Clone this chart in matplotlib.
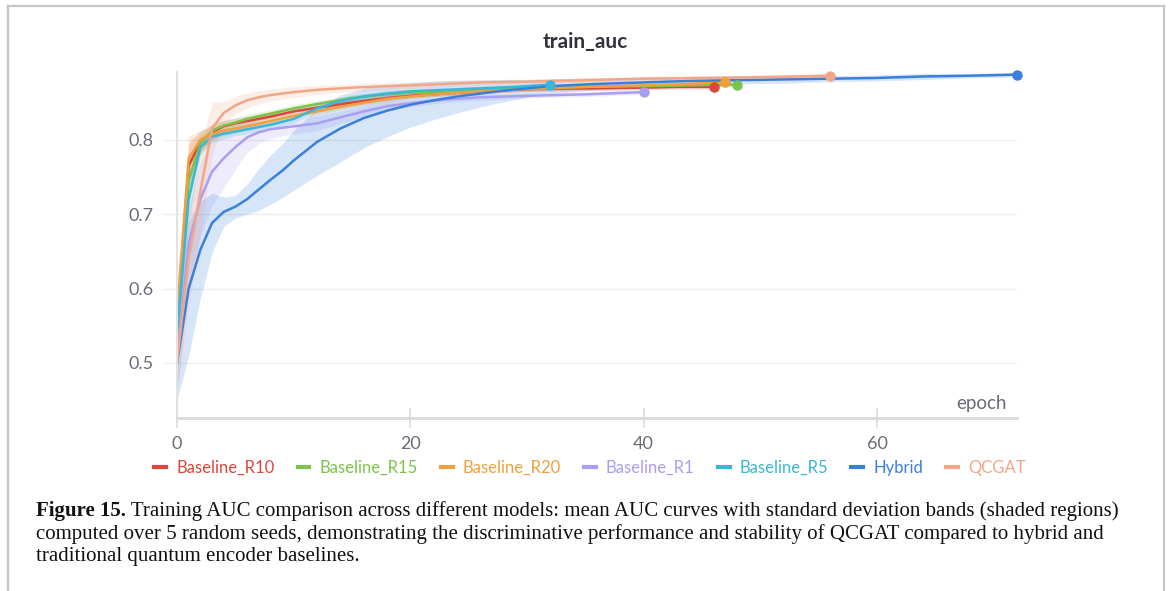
import matplotlib
matplotlib.use("Agg")
import matplotlib.pyplot as plt
from matplotlib.lines import Line2D
import numpy as np

# ---------------- data ----------------
names = ["Baseline_R10", "Baseline_R15", "Baseline_R20", "Baseline_R1",
         "Baseline_R5", "Hybrid", "QCGAT"]
colors = ["#dc473b", "#7cc34d", "#f0a03e", "#a89ff2", "#3ab6d6", "#3b7fdd", "#f2a688"]

r10_ep = [0, 1, 2, 3, 4, 5, 6, 8, 10, 12, 15, 18, 20, 23, 26, 30, 35, 40, 43, 46]
r10_val = [0.55, 0.765, 0.797, 0.81, 0.818, 0.822, 0.825, 0.831, 0.838, 0.843, 0.85,
           0.856, 0.859, 0.862, 0.865, 0.868, 0.869, 0.87, 0.871, 0.871]
r10_std = [0.05, 0.03, 0.015, 0.01, 0.008, 0.007, 0.006, 0.006, 0.005, 0.005, 0.004,
           0.004, 0.003, 0.003, 0.003, 0.003, 0.003, 0.003, 0.003, 0.003]

r15_ep = [0, 1, 2, 3, 4, 5, 6, 8, 10, 12, 15, 18, 20, 23, 26, 30, 35, 40, 44, 48]
r15_val = [0.55, 0.745, 0.795, 0.812, 0.819, 0.823, 0.828, 0.835, 0.842, 0.848, 0.856,
           0.861, 0.863, 0.865, 0.867, 0.869, 0.871, 0.872, 0.873, 0.874]
r15_std = [0.05, 0.03, 0.012, 0.009, 0.007, 0.006, 0.006, 0.005, 0.005, 0.004, 0.004,
           0.004, 0.003, 0.003, 0.003, 0.003, 0.003, 0.003, 0.003, 0.003]

r20_ep = [0, 1, 2, 3, 4, 5, 6, 8, 10, 12, 15, 18, 20, 23, 26, 30, 35, 40, 44, 47]
r20_val = [0.56, 0.775, 0.8, 0.808, 0.812, 0.815, 0.818, 0.825, 0.832, 0.838, 0.847,
           0.855, 0.858, 0.862, 0.865, 0.868, 0.871, 0.873, 0.875, 0.878]
r20_std = [0.05, 0.03, 0.012, 0.009, 0.007, 0.006, 0.006, 0.005, 0.005, 0.004, 0.004,
           0.004, 0.003, 0.003, 0.003, 0.003, 0.003, 0.003, 0.003, 0.003]

r1_ep = [0, 1, 2, 3, 4, 5, 6, 7, 8, 10, 12, 14, 16, 18, 20, 23, 26, 30, 35, 40]
r1_val = [0.5, 0.66, 0.72, 0.757, 0.775, 0.79, 0.803, 0.81, 0.814, 0.818, 0.822, 0.83,
          0.838, 0.845, 0.849, 0.854, 0.857, 0.859, 0.861, 0.864]
r1_std = [0.04, 0.05, 0.05, 0.045, 0.04, 0.03, 0.02, 0.015, 0.012, 0.01, 0.01, 0.008,
          0.007, 0.006, 0.005, 0.004, 0.004, 0.003, 0.003, 0.003]

r5_ep = [0, 1, 2, 3, 4, 5, 6, 8, 10, 12, 14, 16, 18, 20, 23, 26, 29, 32]
r5_val = [0.54, 0.72, 0.79, 0.804, 0.808, 0.811, 0.814, 0.82, 0.828, 0.842, 0.852,
          0.858, 0.862, 0.865, 0.867, 0.869, 0.871, 0.874]
r5_std = [0.05, 0.03, 0.012, 0.008, 0.007, 0.006, 0.006, 0.006, 0.006, 0.005, 0.005,
          0.004, 0.004, 0.003, 0.003, 0.003, 0.003, 0.003]

hyb_ep = [0, 1, 2, 3, 4, 5, 6, 7, 8, 9, 10, 12, 14, 16, 18, 20, 22, 24, 26, 28, 30, 32,
          36, 40, 44, 48, 52, 56, 60, 64, 68, 72]
hyb_val = [0.50, 0.60, 0.652, 0.688, 0.703, 0.710, 0.72, 0.733, 0.746, 0.758, 0.772,
           0.797, 0.815, 0.829, 0.839, 0.847, 0.853, 0.858, 0.862, 0.866, 0.869, 0.872,
           0.875, 0.877, 0.879, 0.880, 0.881, 0.882, 0.883, 0.885, 0.886, 0.8875]
hyb_std = [0.05, 0.09, 0.065, 0.04, 0.02, 0.015, 0.02, 0.028, 0.033, 0.036, 0.04, 0.045,
           0.045, 0.04, 0.035, 0.03, 0.026, 0.022, 0.018, 0.015, 0.012, 0.01, 0.008,
           0.007, 0.006, 0.005, 0.005, 0.004, 0.004, 0.004, 0.003, 0.003]

qc_ep = [0, 1, 2, 3, 4, 5, 6, 7, 8, 10, 12, 15, 18, 20, 23, 26, 30, 35, 40, 45, 50, 53, 56]
qc_val = [0.50, 0.64, 0.73, 0.815, 0.836, 0.846, 0.853, 0.857, 0.86, 0.864, 0.867, 0.87,
          0.872, 0.873, 0.875, 0.877, 0.878, 0.88, 0.882, 0.883, 0.884, 0.885, 0.886]
qc_std = [0.04, 0.06, 0.06, 0.035, 0.015, 0.012, 0.01, 0.009, 0.008, 0.007, 0.006, 0.005,
          0.005, 0.004, 0.004, 0.004, 0.003, 0.003, 0.003, 0.003, 0.003, 0.003, 0.003]

series = [
    (r10_ep, r10_val, r10_std),
    (r15_ep, r15_val, r15_std),
    (r20_ep, r20_val, r20_std),
    (r1_ep, r1_val, r1_std),
    (r5_ep, r5_val, r5_std),
    (hyb_ep, hyb_val, hyb_std),
    (qc_ep, qc_val, qc_std),
]

x_ticks = [0, 20, 40, 60]
y_ticks = [0.5, 0.6, 0.7, 0.8]

caption_bold = "Figure 15."
caption_lines = [
    " Training AUC comparison across different models: mean AUC curves with standard deviation bands (shaded regions)",
    "computed over 5 random seeds, demonstrating the discriminative performance and stability of QCGAT compared to hybrid and",
    "traditional quantum encoder baselines.",
]

# ---------------- figure ----------------
W, H = 1170, 591
fig = plt.figure(figsize=(W / 100, H / 100), dpi=100)
fig.patch.set_facecolor("white")

# outer frame
frame_col = "#c6c6c6"
fig.add_artist(Line2D([8 / W, 8 / W], [0, 1 - 6 / H], transform=fig.transFigure, color=frame_col, lw=1.6))
fig.add_artist(Line2D([8 / W, 1164 / W], [1 - 6 / H, 1 - 6 / H], transform=fig.transFigure, color=frame_col, lw=1.6))
fig.add_artist(Line2D([1164 / W, 1164 / W], [0, 1 - 6 / H], transform=fig.transFigure, color=frame_col, lw=1.6))

ax_l, ax_r = 177 / W, 1017 / W
ax_b, ax_t = 1 - 418 / H, 1 - 72 / H
ax = fig.add_axes([ax_l, ax_b, ax_r - ax_l, ax_t - ax_b])
ax.set_xlim(0, 72)
ax.set_ylim(0.426, 0.891)

tick_col = "#6b6b78"
ui_font = ["Lato", "DejaVu Sans"]

for (ep, val, sd), c in zip(series, colors):
    ep = np.array(ep, dtype=float)
    val = np.array(val)
    sd = np.array(sd)
    ax.fill_between(ep, val - sd, val + sd, color=c, alpha=0.2, lw=0)
for (ep, val, sd), c in zip(series, colors):
    ax.plot(ep, val, color=c, lw=1.8, solid_capstyle="round", solid_joinstyle="round")
    ax.plot(ep[-1], val[-1], "o", color=c, ms=6.5, clip_on=False, zorder=5)

ax.set_xticks(x_ticks)
ax.set_yticks(y_ticks)
ax.set_xticklabels([str(t) for t in x_ticks])
ax.set_yticklabels([f"{t:.1f}" for t in y_ticks])
ax.grid(axis="y", color="#ececec", lw=1.0)
ax.set_axisbelow(True)
for s in ["top", "right"]:
    ax.spines[s].set_visible(False)
ax.spines["left"].set_color("#e2e2e2")
ax.spines["left"].set_linewidth(1.5)
ax.spines["bottom"].set_color("#dcdcdc")
ax.spines["bottom"].set_linewidth(2.2)
ax.tick_params(axis="y", length=10, width=1.0, color="#ececec", pad=7,
               labelsize=13, labelcolor=tick_col)
ax.tick_params(axis="x", direction="inout", length=14, width=1.2, color="#dcdcdc",
               pad=6, labelsize=13, labelcolor=tick_col)
for lab in ax.get_xticklabels() + ax.get_yticklabels():
    lab.set_family(ui_font)

ax.text(1007 / W, 1 - 403 / H, "epoch", transform=fig.transFigure, ha="right", va="center",
        fontsize=13.5, color=tick_col, family=ui_font)

fig.text(585 / W, 1 - 42 / H, "train_auc", ha="center", va="center", fontsize=15,
         fontweight="bold", color="#333340", family=ui_font)

handles = [Line2D([0], [0], color=c, lw=3) for c in colors]
leg = fig.legend(handles, names, loc="center", bbox_to_anchor=(590 / W, 1 - 468 / H),
                 ncol=7, frameon=False, handlelength=0.7, handletextpad=0.6,
                 columnspacing=1.4, prop={"family": ui_font, "size": 12})
for t, c in zip(leg.get_texts(), colors):
    t.set_color(c)

# caption
serif = ["Liberation Serif", "DejaVu Serif"]
cap_fs = 15
cap_y = [1 - 511 / H, 1 - 534 / H, 1 - 557 / H]
t0 = fig.text(36 / W, cap_y[0], caption_bold, fontsize=cap_fs, fontweight="bold",
              family=serif, va="center", ha="left", color="#111111")
fig.canvas.draw()
bb = t0.get_window_extent()
fig.text(bb.x1 / W, cap_y[0], caption_lines[0], fontsize=cap_fs, family=serif,
         va="center", ha="left", color="#111111")
fig.text(36 / W, cap_y[1], caption_lines[1], fontsize=cap_fs, family=serif, va="center",
         ha="left", color="#111111")
fig.text(36 / W, cap_y[2], caption_lines[2], fontsize=cap_fs, family=serif, va="center",
         ha="left", color="#111111")

fig.savefig("out.png", dpi=100, facecolor="white")
